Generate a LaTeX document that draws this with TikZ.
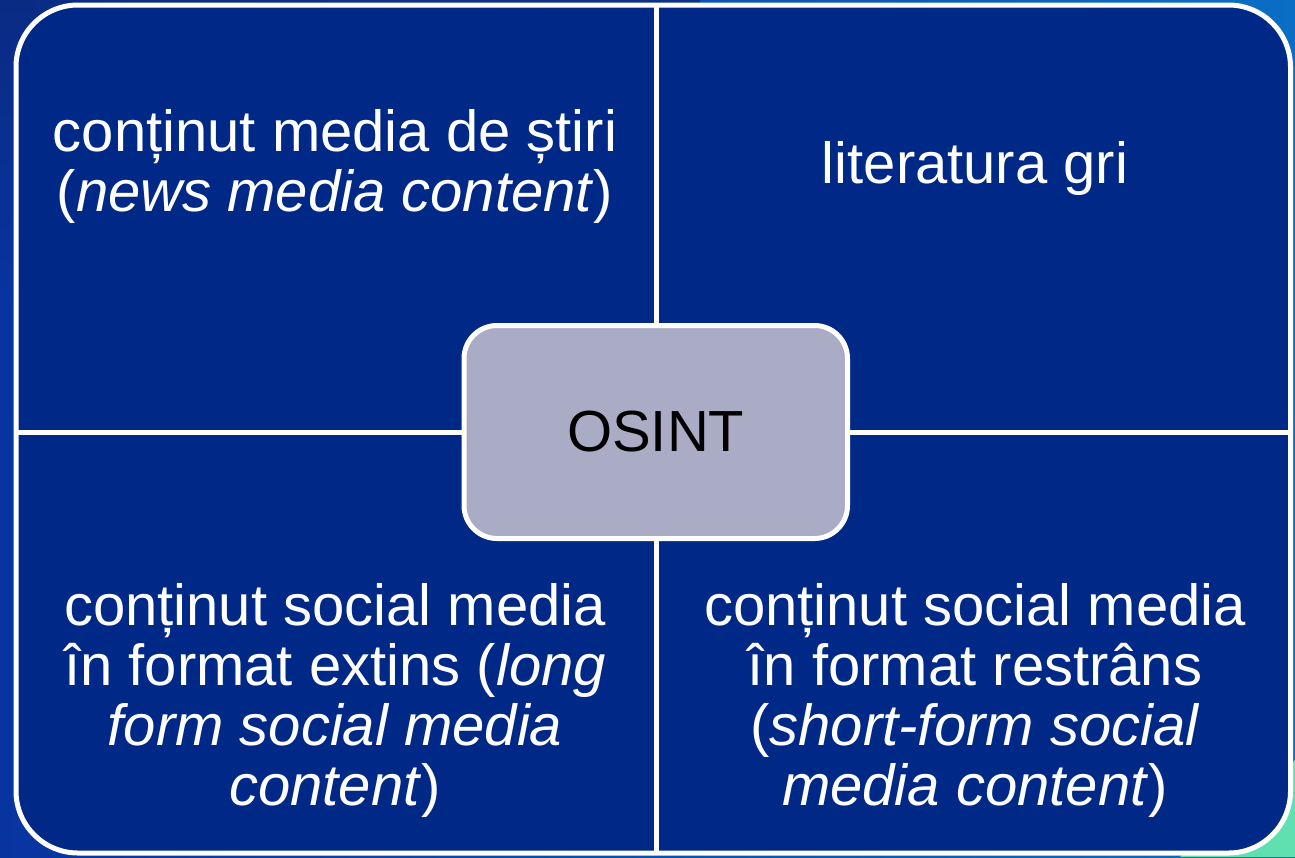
\documentclass[tikz,border=0pt]{standalone}
\usepackage{fontspec}
\setmainfont{Liberation Sans}
\definecolor{quadblue}{RGB}{0,41,135}
\definecolor{osintgray}{RGB}{170,172,197}
\definecolor{bgleft}{RGB}{8,52,160}
\definecolor{bgright}{RGB}{10,110,196}
\definecolor{bgtop}{RGB}{12,40,120}
\definecolor{bggreen}{RGB}{96,224,176}
\tikzset{
  quadtext/.style={text=white, align=center, inner sep=0pt, anchor=base,
    font=\fontsize{58}{60}\selectfont},
  frame/.style={fill=quadblue, draw=white, line width=5pt},
  divider/.style={draw=white, line width=5pt},
  centerbox/.style={fill=osintgray, draw=white, line width=5pt,
    rounded corners=33pt, minimum width=383.5pt, minimum height=213pt,
    text=black, inner sep=0pt, font=\fontsize{58}{60}\selectfont}
}
\begin{document}
\begin{tikzpicture}[x=1pt,y=-1pt]
\useasboundingbox (0,0) rectangle (1295,857);
% background
\shade[left color=bgleft, right color=bgright] (0,0) rectangle (1295,857);
\shade[top color=bgtop, bottom color=bgleft, opacity=0.7] (0,0) rectangle (700,300);
\fill[bggreen] (1295,760) -- (1295,857) -- (1180,857) -- cycle;
% frame
\coordinate (ftl) at (16,5);
\coordinate (fbr) at (1290.5,853);
\coordinate (vtop) at (656.5,5);
\coordinate (vbot) at (656.5,853);
\coordinate (hleft) at (16,432);
\coordinate (hright) at (1290.5,432);
\path[frame, rounded corners=62pt] (ftl) rectangle (fbr);
\draw[divider] (vtop) -- (vbot);
\draw[divider] (hleft) -- (hright);
% center
\node[centerbox] (osint) at (655.75,432) {OSINT};
% quadrant texts
\node[quadtext] (newsmedia) at (335,211)
  {conținut media de știri\\(\textit{news media content})};
\node[quadtext] (grey) at (975,183) {literatura gri};
\node[quadtext] (longform) at (335,805)
  {conținut social media\\în format extins (\textit{long}\\\textit{form social media}\\\textit{content})};
\node[quadtext] (shortform) at (975,805)
  {conținut social media\\în format restrâns\\(\textit{short-form social}\\\textit{media content})};
\end{tikzpicture}
\end{document}
